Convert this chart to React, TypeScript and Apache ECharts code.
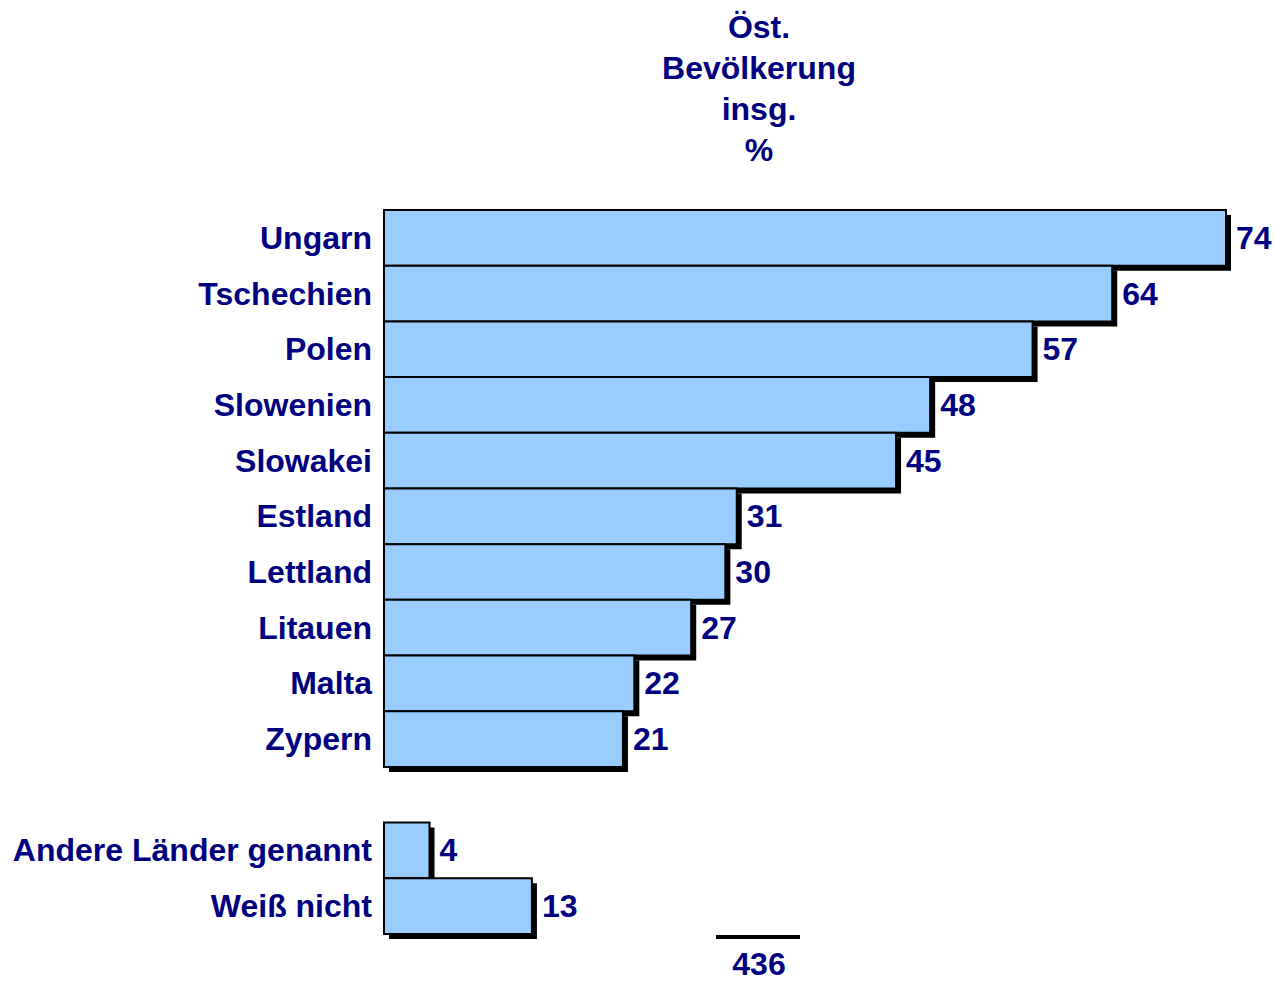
import React, { useEffect, useRef } from "react";
import * as echarts from "echarts";

const categories = [
  "Ungarn",
  "Tschechien",
  "Polen",
  "Slowenien",
  "Slowakei",
  "Estland",
  "Lettland",
  "Litauen",
  "Malta",
  "Zypern",
  "",
  "Andere Länder genannt",
  "Weiß nicht",
];
const values: (number | null)[] = [74, 64, 57, 48, 45, 31, 30, 27, 22, 21, null, 4, 13];
const titleLines = ["Öst.", "Bevölkerung", "insg.", "%"];
const baseLabel = "436";

const NAVY = "#000080";
const FONT = 'Arial, "Liberation Sans", sans-serif';
const FS = 32;

export default function App() {
  const ref = useRef<HTMLDivElement>(null);
  useEffect(() => {
    if (!ref.current) return;
    const chart = echarts.init(ref.current, undefined, { renderer: "svg" });
    const data = categories
      .map((c, i) => (values[i] == null ? null : [values[i], c]))
      .filter((d) => d !== null);
    chart.setOption({
      animation: false,
      grid: { left: 384, right: 48, top: 210, bottom: 47, containLabel: false },
      xAxis: { type: "value", min: 0, max: 74, show: false },
      yAxis: {
        type: "category",
        data: categories,
        inverse: true,
        axisLine: { show: false },
        axisTick: { show: false },
        splitLine: { show: false },
        axisLabel: {
          color: NAVY,
          fontWeight: "bold",
          fontSize: FS,
          fontFamily: FONT,
          margin: 12,
        },
      },
      series: [
        {
          type: "custom",
          data,
          encode: { x: 0, y: 1 },
          renderItem: (params: any, api: any) => {
            const v = api.value(0);
            const c = api.value(1);
            const start = api.coord([0, c]);
            const end = api.coord([v, c]);
            const h = api.size([0, 1])[1];
            const x0 = start[0];
            const y0 = start[1] - h / 2;
            const w = end[0] - start[0];
            return {
              type: "group",
              children: [
                { type: "rect", shape: { x: x0 + 5, y: y0 + 5, width: w, height: h }, style: { fill: "#000" } },
                {
                  type: "rect",
                  shape: { x: x0, y: y0, width: w, height: h },
                  style: { fill: "#99CCFF", stroke: "#000", lineWidth: 2 },
                },
                {
                  type: "text",
                  style: {
                    text: String(v),
                    x: end[0] + 10,
                    y: end[1],
                    verticalAlign: "middle",
                    align: "left",
                    fill: NAVY,
                    font: `bold ${FS}px ${FONT}`,
                  },
                },
              ],
            };
          },
        },
      ],
      graphic: [
        {
          type: "text",
          x: 759,
          y: 6,
          style: {
            text: titleLines.join("\n"),
            align: "center",
            verticalAlign: "top",
            lineHeight: 41,
            fill: NAVY,
            font: `bold ${FS}px ${FONT}`,
          },
        },
        {
          type: "line",
          shape: { x1: 716, y1: 937, x2: 800, y2: 937 },
          style: { stroke: "#000", lineWidth: 4 },
        },
        {
          type: "text",
          x: 759,
          y: 964,
          style: {
            text: baseLabel,
            align: "center",
            verticalAlign: "middle",
            lineHeight: 26,
            fill: NAVY,
            font: `bold ${FS}px ${FONT}`,
          },
        },
      ],
    });
    return () => chart.dispose();
  }, []);
  return (
    <div
      ref={ref}
      style={{ position: "fixed", left: 0, top: 0, width: 1274, height: 981, background: "#fff" }}
    />
  );
}
